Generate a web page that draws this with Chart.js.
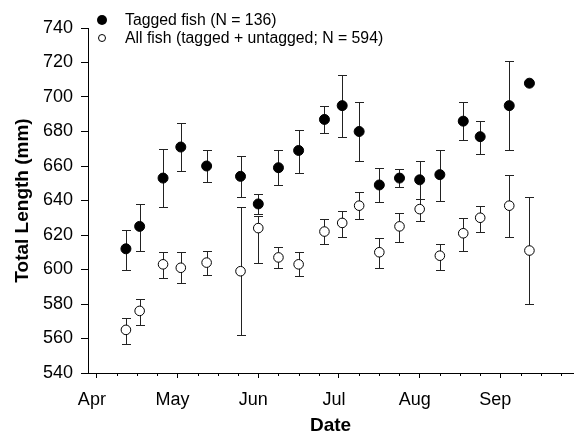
<!DOCTYPE html>
<html>
<head>
<meta charset="utf-8">
<script src="https://cdn.jsdelivr.net/npm/chart.js@4.4.1/dist/chart.umd.min.js"></script>
<style>
  html, body { margin: 0; padding: 0; background: #fff; }
  #wrap { position: relative; width: 579px; height: 442px; }
  .leg { position: absolute; left: 0; font-family: "Liberation Sans", Arial, sans-serif; font-size: 15.8px; color: #000; white-space: nowrap; }
  .dot { position: absolute; border-radius: 50%; box-sizing: border-box; }
</style>
</head>
<body>
<div id="wrap">
  <canvas id="LengthChart" width="579" height="442"></canvas>
  <div class="dot" style="left:96.5px;top:15px;width:10px;height:10px;background:#000;"></div>
  <div class="leg" style="left:125px;top:11px;">Tagged fish (N = 136)</div>
  <div class="dot" style="left:97.5px;top:34px;width:8px;height:8px;border:1px solid #000;background:#fff;"></div>
  <div class="leg" style="left:125px;top:29px;">All fish (tagged + untagged; N = 594)</div>
</div>
<script>
// x positions in months after 1 April (0 = Apr, 1 = May ...)
const dates = [0.36, 0.53, 0.82, 1.04, 1.36, 1.78, 2.00, 2.25, 2.50, 2.82,
               3.04, 3.25, 3.50, 3.75, 4.00, 4.25, 4.54, 4.75, 5.11, 5.36];
const month_labels = ['Apr', 'May', 'Jun', 'Jul', 'Aug', 'Sep'];

// tagged fish
const tagged_mean = [612, 625, 653, 671, 660, 654, 638, 659, 669, 687, 695, 680, 649, 653, 652, 655, 686, 677, 695, 708];
const tagged_hi   = [623, 638, 670, 685, 669, 666, 644, 669, 681, 695, 713, 697, 659, 658, 663, 669, 697, 686, 721, null];
const tagged_lo   = [600, 611, 636, 657, 651, 642, 632, 649, 656, 679, 677, 663, 639, 648, 641, 640, 675, 667, 669, null];

// all fish
const all_mean = [565, 576, 603, 601, 604, 599, 624, 607, 603, 622, 627, 637, 610, 625, 635, 608, 621, 630, 637, 611];
const all_hi   = [572, 583, 610, 610, 611, 636, 631, 613, 610, 629, 634, 645, 618, 633, 641, 615, 630, 637, 655, 642];
const all_lo   = [557, 568, 595, 592, 597, 562, 604, 601, 596, 615, 619, 629, 601, 616, 628, 600, 611, 622, 619, 580];

const FONT = '"Liberation Sans", Arial, sans-serif';

function toPoints(ys) {
    return dates.map((d, i) => ({x: d, y: ys[i]}));
}

dataset1 = {
    label: 'Tagged fish (N = 136)',
    data: toPoints(tagged_mean),
    hi: tagged_hi,
    lo: tagged_lo,
    pointRadius: 5,
    pointBackgroundColor: '#000',
    pointBorderColor: '#000',
    pointBorderWidth: 1,
    showLine: false
};
dataset2 = {
    label: 'All fish (tagged + untagged; N = 594)',
    data: toPoints(all_mean),
    hi: all_hi,
    lo: all_lo,
    pointRadius: 4.8,
    pointBackgroundColor: '#fff',
    pointBorderColor: '#000',
    pointBorderWidth: 1,
    showLine: false
};

// error bars, drawn under the points
const errorBars = {
    id: 'errorBars',
    beforeDatasetsDraw(chart) {
        const ctx = chart.ctx;
        const xs = chart.scales.x, ys = chart.scales.y;
        ctx.save();
        ctx.strokeStyle = '#222';
        ctx.lineWidth = 1;
        for (let ds of chart.data.datasets) {
            ds.data.forEach((p, i) => {
                if (ds.hi[i] == null) return;
                const x = Math.round(xs.getPixelForValue(p.x)) + 0.5;
                const yh = Math.round(ys.getPixelForValue(ds.hi[i])) + 0.5;
                const yl = Math.round(ys.getPixelForValue(ds.lo[i])) + 0.5;
                ctx.beginPath();
                ctx.moveTo(x, yh); ctx.lineTo(x, yl);
                ctx.moveTo(x - 4.5, yh); ctx.lineTo(x + 4.5, yh);
                ctx.moveTo(x - 4.5, yl); ctx.lineTo(x + 4.5, yl);
                ctx.stroke();
            });
        }
        ctx.restore();
    },
    afterDraw(chart) {
        // short minor ticks on the date axis
        const ctx = chart.ctx;
        const xs = chart.scales.x;
        ctx.save();
        ctx.strokeStyle = '#000';
        ctx.lineWidth = 1;
        for (let t of xs.ticks) {
            if (Number.isInteger(t.value)) continue;
            const x = Math.round(xs.getPixelForValue(t.value)) + 0.5;
            ctx.beginPath();
            ctx.moveTo(x, xs.top);
            ctx.lineTo(x, xs.top + 3);
            ctx.stroke();
        }
        ctx.restore();
    }
};

const CANVAS = document.getElementById('LengthChart');
var LengthChart = new Chart(CANVAS, {
    type: 'scatter',
    data: { datasets: [dataset2, dataset1] },
    plugins: [errorBars],
    options: {
        responsive: false,
        animation: false,
        events: [],
        layout: { padding: { top: 28, right: 0, left: 0, bottom: 0 } },
        plugins: {
            legend: { display: false },
            tooltip: { enabled: false }
        },
        scales: {
            x: {
                type: 'linear',
                min: -0.11,
                max: 5.9,
                afterFit: (scale) => { scale.height = 69; },
                border: { display: true, color: '#000', width: 1 },
                grid: {
                    drawOnChartArea: false,
                    drawTicks: true,
                    tickLength: 5,
                    tickColor: (c) => Number.isInteger(c.tick && c.tick.value) ? '#000' : 'rgba(0,0,0,0)'
                },
                ticks: {
                    stepSize: 0.25,
                    includeBounds: false,
                    autoSkip: false,
                    maxRotation: 0,
                    padding: 11,
                    labelOffset: -5,
                    color: '#000',
                    font: { family: FONT, size: 18 }
                    ,callback: (v) => Number.isInteger(v) ? (month_labels[v] || '') : ''
                },
                title: {
                    display: true,
                    text: 'Date',
                    color: '#000',
                    font: { family: FONT, size: 19, weight: 'bold' },
                    padding: { top: 0, bottom: 5 }
                }
            },
            y: {
                min: 540,
                max: 740,
                afterFit: (scale) => { scale.width = 88; },
                border: { display: true, color: '#000', width: 1 },
                grid: {
                    drawOnChartArea: false,
                    drawTicks: true,
                    tickLength: 7,
                    color: '#000'
                },
                ticks: {
                    stepSize: 20,
                    padding: 8,
                    color: '#000',
                    font: { family: FONT, size: 18 }
                },
                title: {
                    display: true,
                    text: 'Total Length (mm)',
                    color: '#000',
                    font: { family: FONT, size: 19, weight: 'bold' },
                    padding: { top: 11, bottom: 0 }
                }
            }
        }
    }
});
</script>
</body>
</html>
